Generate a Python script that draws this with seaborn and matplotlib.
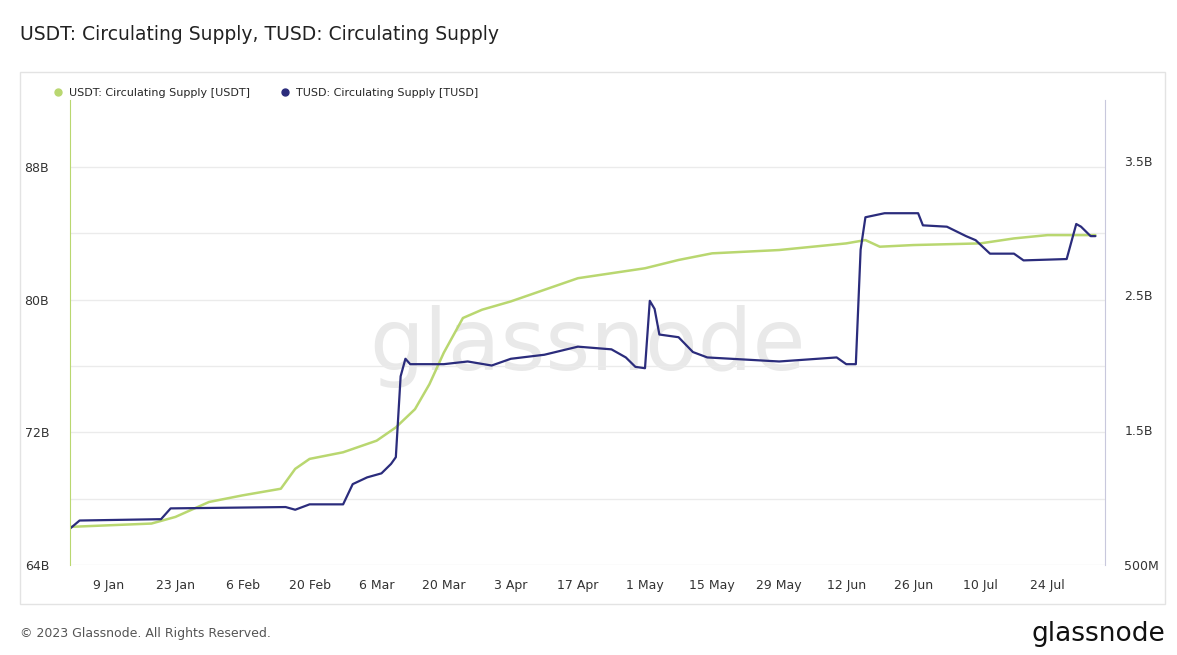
import pandas as pd
import numpy as np
import matplotlib.pyplot as plt
from matplotlib.patches import Rectangle
from matplotlib.lines import Line2D
import seaborn as sns

# USDT circulating supply (billions)
usdt_dates = ["2023-01-01", "2023-01-18", "2023-01-23", "2023-01-30", "2023-02-06", "2023-02-14",
              "2023-02-17", "2023-02-20", "2023-02-27", "2023-03-06", "2023-03-10", "2023-03-14",
              "2023-03-17", "2023-03-20", "2023-03-24", "2023-03-28", "2023-04-03", "2023-04-10",
              "2023-04-17", "2023-04-24", "2023-05-01", "2023-05-08", "2023-05-15", "2023-05-29",
              "2023-06-12", "2023-06-16", "2023-06-19", "2023-06-26", "2023-07-10", "2023-07-17",
              "2023-07-24", "2023-08-03"]
usdt_vals = [66.3, 66.5, 66.9, 67.8, 68.2, 68.6, 69.8, 70.4, 70.8, 71.5, 72.3, 73.4,
             74.9, 76.8, 78.9, 79.4, 79.9, 80.6, 81.3, 81.6, 81.9, 82.4, 82.8, 83.0,
             83.4, 83.6, 83.2, 83.3, 83.4, 83.7, 83.9, 83.9]

# TUSD circulating supply (billions)
tusd_dates = ["2023-01-01", "2023-01-03", "2023-01-20", "2023-01-22", "2023-02-15", "2023-02-17",
              "2023-02-20", "2023-02-27", "2023-03-01", "2023-03-04", "2023-03-07", "2023-03-09",
              "2023-03-10", "2023-03-11", "2023-03-12", "2023-03-13", "2023-03-20", "2023-03-25",
              "2023-03-30", "2023-04-03", "2023-04-10", "2023-04-17", "2023-04-24", "2023-04-27",
              "2023-04-29", "2023-05-01", "2023-05-02", "2023-05-03", "2023-05-04", "2023-05-08",
              "2023-05-11", "2023-05-14", "2023-05-29", "2023-06-10", "2023-06-12", "2023-06-14",
              "2023-06-15", "2023-06-16", "2023-06-20", "2023-06-27", "2023-06-28", "2023-07-03",
              "2023-07-07", "2023-07-09", "2023-07-12", "2023-07-17", "2023-07-19", "2023-07-28",
              "2023-07-30", "2023-07-31", "2023-08-02", "2023-08-03"]
tusd_vals = [0.77, 0.83, 0.84, 0.92, 0.93, 0.91, 0.95, 0.95, 1.10, 1.15, 1.18, 1.25,
             1.30, 1.90, 2.03, 1.99, 1.99, 2.01, 1.98, 2.03, 2.06, 2.12, 2.10, 2.04,
             1.97, 1.96, 2.46, 2.40, 2.21, 2.19, 2.08, 2.04, 2.01, 2.04, 1.99, 1.99,
             2.84, 3.08, 3.11, 3.11, 3.02, 3.01, 2.94, 2.91, 2.81, 2.81, 2.76, 2.77,
             3.03, 3.01, 2.94, 2.94]

usdt = pd.DataFrame({"date": pd.to_datetime(usdt_dates), "v": usdt_vals})
tusd = pd.DataFrame({"date": pd.to_datetime(tusd_dates), "v": tusd_vals})

green = "#b9d770"
navy = "#2b2c7c"

sns.set_style("white")
fig = plt.figure(figsize=(11.77, 6.55), dpi=100)
fig.patches.append(Rectangle((20/1177, 1-604/655), 1145/1177, 532/655, transform=fig.transFigure,
                             fill=False, edgecolor="#e3e3e3", lw=1))
ax = fig.add_axes([70/1177, 1-565/655, 1035/1177, 465/655])
ax2 = ax.twinx()

ax.text(0.5, 0.47, "glassnode", transform=ax.transAxes, ha="center", va="center",
        fontsize=62, color="#e9e9e9", zorder=0)

sns.lineplot(data=usdt, x="date", y="v", ax=ax, color=green, lw=1.8)
sns.lineplot(data=tusd, x="date", y="v", ax=ax2, color=navy, lw=1.6)

ax.set_xlim(pd.Timestamp("2023-01-01"), pd.Timestamp("2023-08-05"))
ax.set_ylim(64, 92.05)
ax2.set_ylim(0.5, 3.95)
ax.set_yticks([64, 68, 72, 76, 80, 84, 88])
ax.set_yticklabels(["64B", "", "72B", "", "80B", "", "88B"])
ax2.set_yticks([0.5, 1.5, 2.5, 3.5])
ax2.set_yticklabels(["500M", "1.5B", "2.5B", "3.5B"])
ax.grid(axis="y", color="#ebebeb", lw=1)

ticks = pd.date_range("2023-01-09", "2023-07-24", freq="14D")
ax.set_xticks(ticks)
ax.set_xticklabels([f"{d.day} {d.strftime('%b')}" for d in ticks])
for a in (ax, ax2):
    a.set_xlabel("")
    a.set_ylabel("")
    a.tick_params(length=0, labelsize=9, colors="#333333", pad=10)
    for s in a.spines.values():
        s.set_visible(False)
ax.tick_params(axis="y", pad=15)
ax2.tick_params(axis="y", pad=14)
ax2.spines["left"].set_visible(True)
ax2.spines["left"].set_color(green)
ax2.spines["right"].set_visible(True)
ax2.spines["right"].set_color("#c8c8dc")

handles = [Line2D([], [], marker="o", ls="", color=green, markersize=5),
           Line2D([], [], marker="o", ls="", color=navy, markersize=5)]
ax2.legend(handles, ["USDT: Circulating Supply [USDT]", "TUSD: Circulating Supply [TUSD]"],
           loc="lower left", bbox_to_anchor=(-0.027, 0.995), ncol=2, frameon=False,
           fontsize=8, handletextpad=0.0, columnspacing=2.2, borderaxespad=0)

fig.text(20/1177, 1-35/655, "USDT: Circulating Supply, TUSD: Circulating Supply",
         fontsize=13.5, va="center", color="#222222")
fig.text(20/1177, 1-634/655, "© 2023 Glassnode. All Rights Reserved.", fontsize=9,
         va="center", color="#555555")
fig.text(1165/1177, 1-634/655, "glassnode", fontsize=19, ha="right", va="center", color="#111111")

fig.savefig("out.png", dpi=100)
